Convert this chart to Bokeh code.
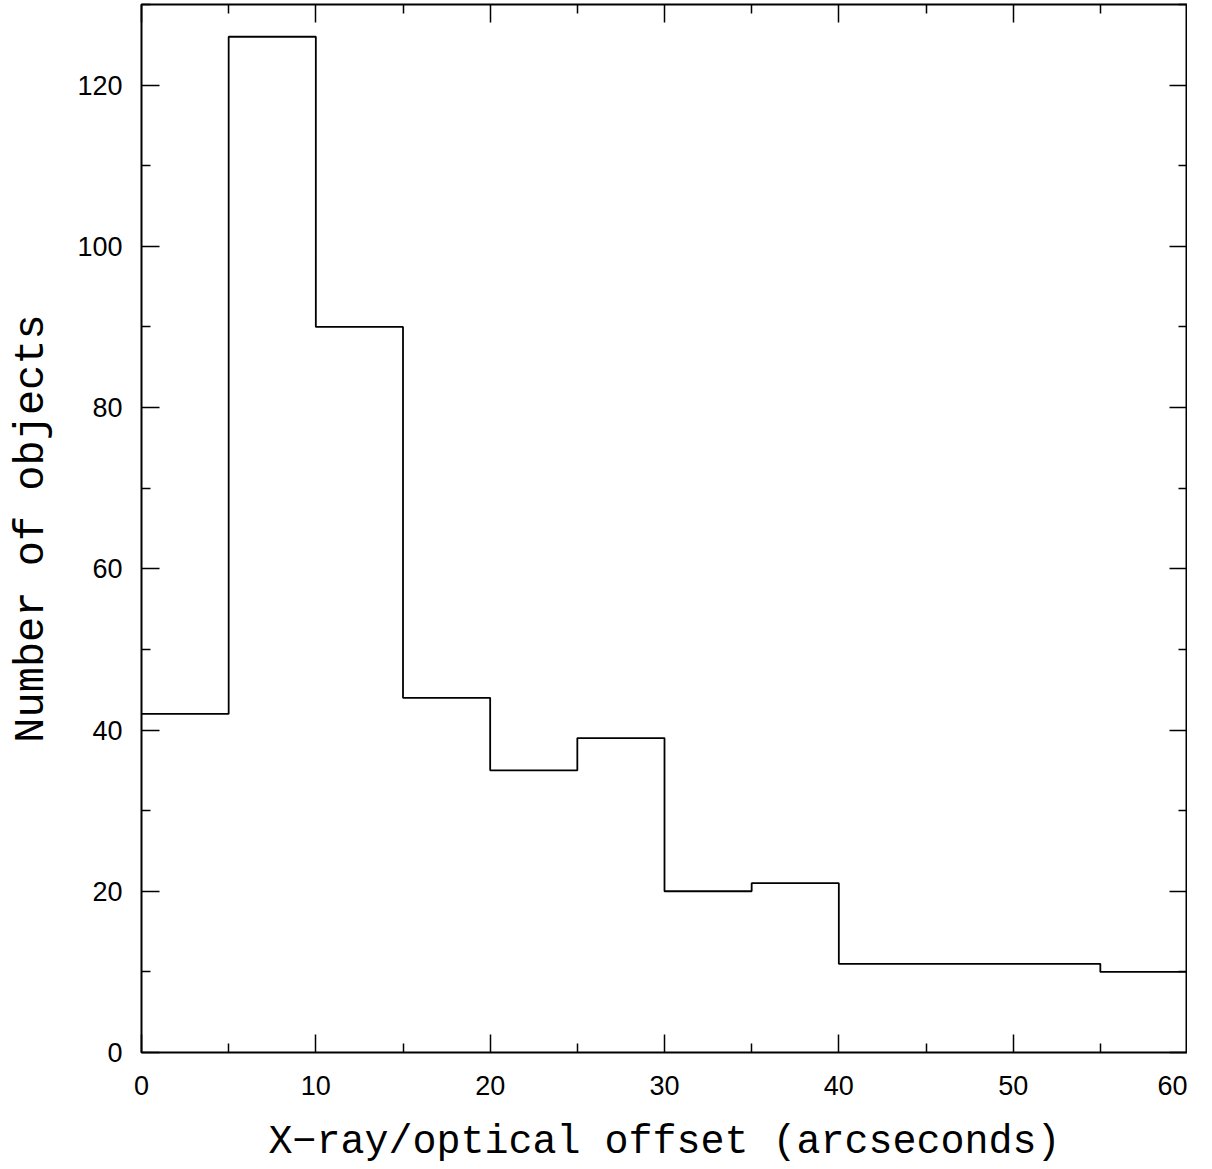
from bokeh.plotting import figure
from bokeh.models import Range1d, LinearAxis, FixedTicker
from bokeh.embed import file_html
from bokeh.resources import INLINE

# Histogram data (bin edges in arcseconds, counts per bin)
bin_edges = [0, 5, 10, 15, 20, 25, 30, 35, 40, 45, 50, 55, 60]
counts = [42, 126, 90, 44, 35, 39, 20, 21, 11, 11, 11, 10]

x_major = [0, 10, 20, 30, 40, 50, 60]
x_minor = [5, 15, 25, 35, 45, 55]
y_major = [0, 20, 40, 60, 80, 100, 120]
y_minor = [10, 30, 50, 70, 90, 110, 130]

p = figure(frame_width=1046, frame_height=1048, output_backend="svg", toolbar_location=None,
           x_range=Range1d(0, 60), y_range=Range1d(0, 130),
           min_border_left=141, min_border_right=0, min_border_top=4, min_border_bottom=100,
           x_axis_label="X\u2212ray/optical offset (arcseconds)",
           y_axis_label="Number of objects")

p.grid.visible = False
p.outline_line_color = "black"
p.outline_line_width = 2
p.background_fill_color = "white"
p.border_fill_color = "white"

def style_axis(ax, ticks, minor, show_labels):
    ax.ticker = FixedTicker(ticks=ticks, minor_ticks=minor)
    ax.major_tick_in = 18
    ax.major_tick_out = 0
    ax.minor_tick_in = 9
    ax.minor_tick_out = 0
    ax.major_tick_line_color = "black"
    ax.minor_tick_line_color = "black"
    ax.major_tick_line_width = 1.5
    ax.minor_tick_line_width = 1.5
    ax.axis_line_color = None
    ax.major_label_text_font = "Liberation Sans"
    ax.major_label_text_font_size = "27px"
    ax.major_label_text_color = "black"
    if not show_labels:
        ax.major_label_text_alpha = 0
        ax.major_label_text_font_size = "0px"
        ax.major_label_standoff = 0
        ax.axis_label = None

style_axis(p.xaxis[0], x_major, x_minor, True)
style_axis(p.yaxis[0], y_major, y_minor, True)
p.xaxis[0].major_label_standoff = 23
p.yaxis[0].major_label_standoff = 19

for ax in (p.xaxis[0], p.yaxis[0]):
    ax.axis_label_text_font = "Liberation Mono"
    ax.axis_label_text_font_size = "40px"
    ax.axis_label_text_font_style = "normal"
    ax.axis_label_text_color = "black"
p.yaxis[0].axis_label_text_font_size = "42px"
p.xaxis[0].axis_label_standoff = 22
p.yaxis[0].axis_label_standoff = 18

top = LinearAxis()
style_axis(top, x_major, x_minor, False)
p.add_layout(top, "above")
right = LinearAxis()
style_axis(right, y_major, y_minor, False)
p.add_layout(right, "right")

p.step(x=bin_edges, y=counts + [counts[-1]], mode="after",
       line_color="black", line_width=1.8)

open("out.html", "w").write(file_html(p, INLINE))
